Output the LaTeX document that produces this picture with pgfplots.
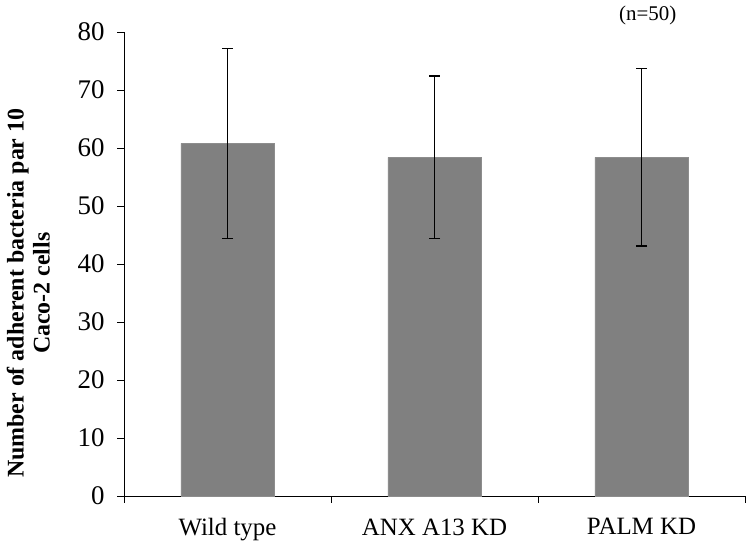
\documentclass[border=0pt]{standalone}
\usepackage{pgfplots}
\pgfplotsset{compat=1.18}
\usepackage{fontspec}
\setmainfont{Liberation Serif}
\definecolor{barg}{HTML}{808080}
\begin{document}
\begin{tikzpicture}[x=1bp,y=1bp]
\path[use as bounding box] (0,0) rectangle (746,552);
\begin{axis}[
  at={(124bp,56bp)}, anchor=south west,
  scale only axis, width=621bp, height=464bp,
  ymin=0, ymax=80, ytick={0,10,...,80},
  xmin=-0.5, xmax=2.5,
  axis x line=bottom, axis y line=left,
  axis line style={-, line width=0.9pt, black},
  xtick={0,1,2}, xticklabels={Wild type, ANX A13 KD, PALM KD},
  major x tick style={draw=none},
  minor xtick={-0.5,0.5,1.5,2.5},
  minor x tick style={line width=0.9pt, black},
  minor tick length=7bp,
  ytick style={line width=0.9pt, black},
  major tick length=7bp,
  tick align=outside,
  /pgf/number format/assume math mode=true,
  yticklabel style={font=\fontsize{27}{30}\selectfont, xshift=-9bp},
  xticklabel style={font=\fontsize{25}{28}\selectfont, yshift=-12bp},
  ylabel={Number of adherent bacteria par 10\\Caco-2 cells},
  ylabel style={font=\bfseries\fontsize{24}{26}\selectfont, align=center,
    at={(axis description cs:-0.154,0.437)}, anchor=center},
  clip=false,
]
\addplot[ybar, bar width=0.45, fill=barg, draw=barg!90!white,
  error bars/.cd, y dir=both, y explicit,
  error bar style={line width=1.2pt, black},
  error mark options={rotate=90, mark size=5.5bp, line width=1.4pt, black}]
  coordinates {
  (0,60.8) +- (0,16.4)
  (1,58.4) +- (0,14.0)
  (2,58.4) +- (0,15.3)
  };
\node[font=\fontsize{21}{23}\selectfont] at (axis cs:2.03,82.8) {(n=50)};
\end{axis}
\end{tikzpicture}
\end{document}
